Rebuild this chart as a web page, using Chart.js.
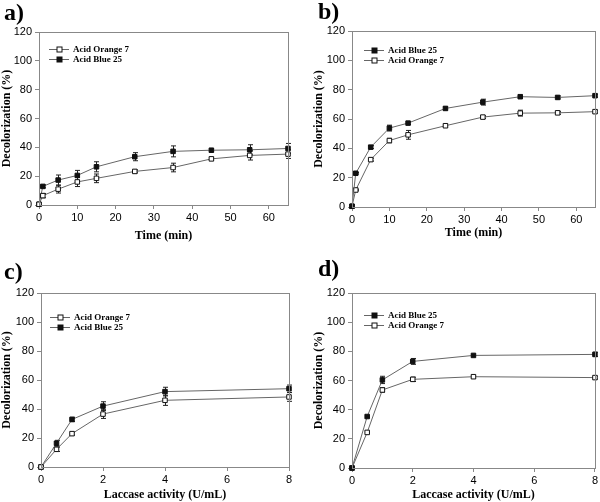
<!DOCTYPE html>
<html>
<head>
<meta charset="utf-8">
<script src="https://cdn.jsdelivr.net/npm/chart.js@4.4.0/dist/chart.umd.min.js"></script>
<style>
body{margin:0;background:#fff;width:600px;height:502px;position:relative;overflow:hidden}
canvas{position:absolute}
</style>
</head>
<body>
<canvas id="ca" width="300" height="250" style="left:0;top:0"></canvas>
<canvas id="cb" width="300" height="250" style="left:300px;top:0"></canvas>
<canvas id="cc" width="300" height="252" style="left:0;top:250px"></canvas>
<canvas id="cd" width="300" height="252" style="left:300px;top:250px"></canvas>
<script>
// x values
var timeMin = [0, 1, 5, 10, 15, 25, 35, 45, 55, 65];
var laccase = [0, 0.5, 1, 2, 4, 8];

// a) decolorization vs time
var aOrange = [0.5, 6.5, 11, 16, 18.5, 23.3, 26, 32, 34.4, 35.3];
var aOrangeErr = [0, 1.5, 2.7, 3.2, 3, 1, 3, 1, 3.2, 3];
var aBlue = [0.5, 12.9, 17.3, 20.5, 26.5, 33.5, 37.2, 38, 38.3, 39.2];
var aBlueErr = [0, 1, 3.5, 3.5, 3.5, 2.8, 3.8, 1, 3.5, 3.5];

// b)
var bBlue = [0.5, 23, 40.8, 53.8, 57.2, 67.2, 71.5, 75.2, 74.7, 75.9];
var bBlueErr = [0, 0.5, 1, 2, 1, 1, 2, 1, 1, 1];
var bOrange = [0.5, 11.6, 32.3, 45.3, 49.2, 55.4, 61.3, 64, 64.2, 65];
var bOrangeErr = [0, 0.5, 1, 1.5, 3, 1, 1, 2, 1, 1];

// c)
var cOrange = [0, 12.2, 23, 36.5, 46, 48.3];
var cOrangeErr = [0, 1.5, 1, 3, 3.5, 3];
var cBlue = [0, 16.4, 32.8, 42, 52, 54];
var cBlueErr = [0, 2, 1.5, 3, 3, 2.5];

// d)
var dBlue = [0, 35.3, 60.4, 73.1, 77.2, 77.9];
var dBlueErr = [0, 0.5, 2.5, 2, 0.5, 1.5];
var dOrange = [0, 24.4, 53.5, 60.8, 62.6, 62];
var dOrangeErr = [0, 0.5, 1.5, 1.5, 1, 1];

var yTicks = [0, 20, 40, 60, 80, 100, 120];

function pts(xs, ys) {
	var out = [];
	for (var i in xs) out.push({x: xs[i], y: ys[i]});
	return out;
}

function series(label, xs, ys, errs, filled) {
	return {
		label: label,
		data: pts(xs, ys),
		err: errs,
		borderColor: "#666",
		borderWidth: 1,
		pointStyle: "rect",
		pointRadius: 3.2,
		pointBorderWidth: 1,
		pointBorderColor: "#111",
		pointBackgroundColor: filled ? "#111" : "#fff",
		clip: false
	};
}

var extras = {
	id: "extras",
	beforeDatasetsDraw: function(chart) {
		var ctx = chart.ctx, xs = chart.scales.x, ys = chart.scales.y;
		ctx.save();
		ctx.strokeStyle = "#222";
		ctx.lineWidth = 1;
		chart.data.datasets.forEach(function(ds) {
			ds.data.forEach(function(p, i) {
				var e = ds.err[i];
				if (!e) return;
				var px = Math.round(xs.getPixelForValue(p.x)) + 0.5;
				var y1 = ys.getPixelForValue(p.y + e), y2 = ys.getPixelForValue(p.y - e);
				ctx.beginPath();
				ctx.moveTo(px, y1); ctx.lineTo(px, y2);
				ctx.moveTo(px - 2.5, y1); ctx.lineTo(px + 2.5, y1);
				ctx.moveTo(px - 2.5, y2); ctx.lineTo(px + 2.5, y2);
				ctx.stroke();
			});
		});
		ctx.restore();
	},
	afterDraw: function(chart) {
		var o = chart.options.plugins.extras;
		var ctx = chart.ctx, a = chart.chartArea;
		ctx.save();
		// frame
		ctx.strokeStyle = "#888";
		ctx.lineWidth = 1;
		ctx.strokeRect(Math.round(a.left) + 0.5, Math.round(a.top) + 0.5, Math.round(a.right - a.left), Math.round(a.bottom - a.top));
		// panel letter
		ctx.fillStyle = "#000";
		ctx.font = "bold 24px 'Liberation Serif'";
		ctx.textBaseline = "alphabetic";
		ctx.fillText(o.letter, o.letterX, o.letterY);
		// legend
		ctx.font = "bold 9px 'Liberation Serif'";
		ctx.textBaseline = "middle";
		chart.data.datasets.forEach(function(ds, i) {
			var lx = a.left + o.legX, ly = Math.round(a.top + o.legY + i * 9.5) + 0.5;
			ctx.strokeStyle = ds.borderColor;
			ctx.beginPath(); ctx.moveTo(lx, ly); ctx.lineTo(lx + 20, ly); ctx.stroke();
			ctx.fillStyle = ds.pointBackgroundColor;
			ctx.strokeStyle = ds.pointBorderColor;
			ctx.fillRect(lx + 8, ly - 2.5, 5, 5);
			ctx.strokeRect(lx + 8, ly - 2.5, 5, 5);
			ctx.fillStyle = "#000";
			ctx.fillText(ds.label, lx + 24, ly);
		});
		ctx.restore();
	}
};

function makeChart(id, datasets, xMax, xStep, xTitle, geo) {
	return new Chart(document.getElementById(id), {
		type: "line",
		data: {datasets: datasets},
		options: {
			responsive: false,
			animation: false,
			layout: {padding: {top: geo.top, right: geo.right, left: geo.left, bottom: geo.bottom}},
			plugins: {
				legend: {display: false},
				tooltip: {enabled: false},
				extras: geo
			},
			scales: {
				x: {
					type: "linear",
					min: 0, max: xMax,
					afterFit: function(s) { s.height = geo.xh; },
					afterBuildTicks: function(s) {
						var t = [];
						for (var v = 0; v <= xMax; v += xStep) t.push({value: v});
						s.ticks = t;
					},
					grid: {display: true, drawOnChartArea: false, tickLength: 4, color: "#888"},
					border: {color: "#888"},
					ticks: {color: "#000", font: {family: "'Liberation Sans'", size: 11}, padding: 2, maxRotation: 0},
					title: {display: true, text: xTitle, color: "#000", font: {family: "'Liberation Serif'", size: 12, weight: "bold"}, padding: 0}
				},
				y: {
					min: 0, max: 120,
					afterFit: function(s) { s.width = geo.yw; },
					afterBuildTicks: function(s) { s.ticks = yTicks.map(function(v) { return {value: v}; }); },
					grid: {display: true, drawOnChartArea: false, tickLength: 4, color: "#888"},
					border: {color: "#888"},
					ticks: {color: "#000", font: {family: "'Liberation Sans'", size: 11}, padding: 3},
					title: {display: true, text: "Decolorization (%)", color: "#000", font: {family: "'Liberation Serif'", size: 12, weight: "bold"}, padding: 0}
				}
			}
		},
		plugins: [extras]
	});
}

makeChart("ca", [
	series("Acid Orange 7", timeMin, aOrange, aOrangeErr, false),
	series("Acid Blue 25", timeMin, aBlue, aBlueErr, true)
], 65, 10, "Time (min)", {top: 32, right: 12, left: 0, bottom: 7, yw: 39, xh: 38, letter: "a)", letterX: 4, letterY: 20, legX: 10, legY: 17});

makeChart("cb", [
	series("Acid Blue 25", timeMin, bBlue, bBlueErr, true),
	series("Acid Orange 7", timeMin, bOrange, bOrangeErr, false)
], 65, 10, "Time (min)", {top: 31, right: 1, left: 12, bottom: 10, yw: 40, xh: 33, letter: "b)", letterX: 18, letterY: 19, legX: 12, legY: 19});

makeChart("cc", [
	series("Acid Orange 7", laccase, cOrange, cOrangeErr, false),
	series("Acid Blue 25", laccase, cBlue, cBlueErr, true)
], 8, 2, "Laccase activity (U/mL)", {top: 43, right: 11, left: 0, bottom: 0, yw: 41, xh: 35, letter: "c)", letterX: 4, letterY: 29, legX: 9, legY: 24});

makeChart("cd", [
	series("Acid Blue 25", laccase, dBlue, dBlueErr, true),
	series("Acid Orange 7", laccase, dOrange, dOrangeErr, false)
], 8, 2, "Laccase activity (U/mL)", {top: 43, right: 2, left: 12, bottom: 0, yw: 40, xh: 34, letter: "d)", letterX: 18, letterY: 26, legX: 12, legY: 22});
</script>
</body>
</html>
